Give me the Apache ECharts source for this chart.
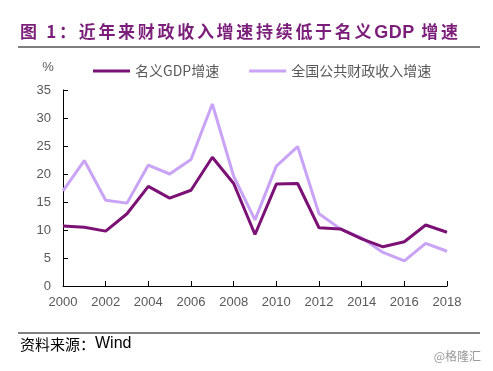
<!DOCTYPE html>
<html><head><meta charset="utf-8">
<script src="https://cdn.jsdelivr.net/npm/echarts@6/dist/echarts.min.js"></script>
<style>html,body{margin:0;padding:0;background:#fff}#c{width:493px;height:371px}
#t{position:absolute;left:20px;top:18px;font-family:'Noto Sans CJK SC';font-weight:bold;font-size:17px;letter-spacing:2.7px;color:#7B1E7A;white-space:nowrap}
#t span{letter-spacing:0.5px;font-family:'Liberation Sans';font-size:18px}</style>
</head><body><div id="c"></div><div id="t"></div>
<script>
var years = [2000,2001,2002,2003,2004,2005,2006,2007,2008,2009,2010,2011,2012,2013,2014,2015,2016,2017,2018];
var gdpGrowth = [10.7,10.5,9.8,12.9,17.8,15.7,17.1,23.0,18.3,9.2,18.2,18.3,10.4,10.2,8.4,7.0,7.9,10.9,9.6];
var fiscalGrowth = [17.0,22.4,15.3,14.8,21.6,20.0,22.6,32.5,19.6,11.8,21.4,24.9,12.9,10.2,8.6,6.0,4.5,7.6,6.2];
var seriesNames = ['名义GDP增速','全国公共财政收入增速'];
var titleParts = ['图 1：近年来财政收入增速持续低于名义', 'GDP', ' 增速'];
var sourceLabel = '资料来源：';
var sourceName = 'Wind';
var watermark = '@格隆汇';

var t = document.getElementById('t');
t.appendChild(document.createTextNode(titleParts[0]));
var sp = document.createElement('span'); sp.textContent = titleParts[1]; t.appendChild(sp);
t.appendChild(document.createTextNode(titleParts[2]));

function pairs(v){ return years.map(function(y,i){ return [y, v[i]]; }); }
var chart = echarts.init(document.getElementById('c'));
var grey = '#595959';
chart.setOption({
  animation:false,
  grid:{left:63,right:46,top:90,bottom:85},
  legend:{left:88,top:59,itemWidth:37,itemHeight:3,itemGap:30,icon:'rect',
    textStyle:{color:grey,fontSize:14,fontFamily:'Noto Sans CJK SC'},
    data:seriesNames},
  xAxis:{type:'value',min:2000,max:2018,interval:2,
    axisLine:{lineStyle:{color:'#000',width:1}},
    axisTick:{inside:true,length:5,lineStyle:{color:'#000'}},
    splitLine:{show:false},
    axisLabel:{color:grey,fontSize:13,fontFamily:'Liberation Sans',margin:10,
      formatter:function(v){return String(v);}}},
  yAxis:{type:'value',min:0,max:35,interval:5,name:'%',nameLocation:'end',
    nameGap:16,nameTextStyle:{color:grey,fontSize:13,fontFamily:'Liberation Sans',padding:[0,30,0,0]},
    axisLine:{show:true,lineStyle:{color:'#000',width:1}},
    axisTick:{show:true,inside:true,length:5,lineStyle:{color:'#000'}},
    splitLine:{show:false},
    axisLabel:{color:grey,fontSize:13,fontFamily:'Liberation Sans',margin:12}},
  series:[
    {name:seriesNames[0],type:'line',data:pairs(gdpGrowth),symbol:'none',z:3,
      lineStyle:{color:'#7B1174',width:3},itemStyle:{color:'#7B1174'}},
    {name:seriesNames[1],type:'line',data:pairs(fiscalGrowth),symbol:'none',z:2,
      lineStyle:{color:'#C9A3F5',width:3},itemStyle:{color:'#C9A3F5'}}
  ],
  graphic:[
    {type:'line',shape:{x1:18,y1:47,x2:480,y2:47},style:{stroke:'#000',lineWidth:1}},
    {type:'line',shape:{x1:18,y1:333,x2:480,y2:333},style:{stroke:'#000',lineWidth:1}},
    {type:'text',left:20,top:336,style:{text:'{a|'+sourceLabel+'}{b|'+sourceName+'}',
      rich:{a:{fill:'#000',fontSize:15,fontFamily:'Noto Sans CJK SC'},
            b:{fill:'#000',fontSize:16,fontFamily:'Liberation Sans'}}}},
    {type:'text',right:12,top:350,style:{text:watermark,fill:'#999',fontSize:12,fontFamily:'Noto Sans CJK SC'}}
  ]
});
</script></body></html>
